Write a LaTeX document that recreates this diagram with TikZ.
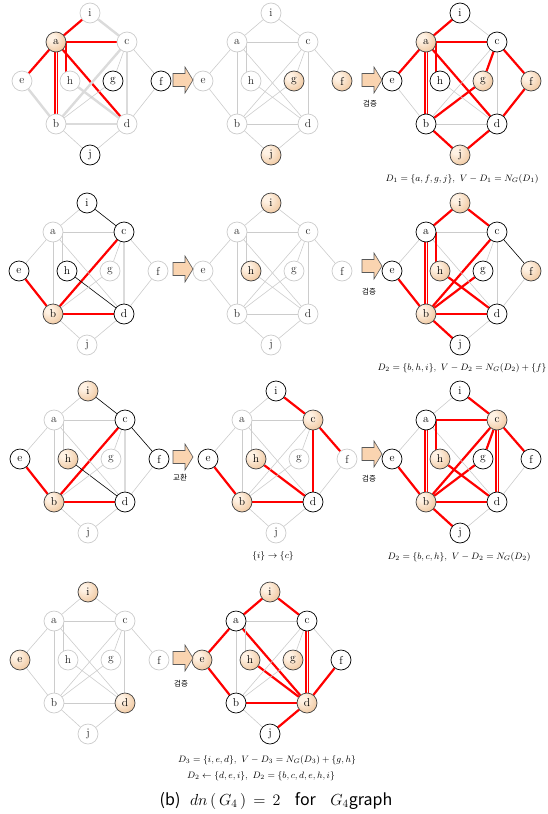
\RequirePackage{fix-cm}
\documentclass[tikz,border=0pt]{standalone}
\usepackage{fontspec}
\newfontfamily\kr{Noto Sans CJK KR}
\usetikzlibrary{backgrounds,calc}
\definecolor{pkA}{RGB}{255,242,228}
\definecolor{pkB}{RGB}{240,200,160}
\definecolor{pkC}{RGB}{208,152,104}
\definecolor{arrf}{RGB}{250,212,176}
\pgfdeclareradialshading{peachball}{\pgfpoint{-12bp}{12bp}}{color(0bp)=(pkA); color(8bp)=(pkA); color(35bp)=(pkB); color(62bp)=(pkC); color(80bp)=(pkC)}
\tikzset{
  nd/.style={circle, minimum size=20pt, inner sep=0pt, font=\fontsize{11.5}{12}\selectfont, line width=0.7pt},
  lt/.style={nd, draw=black!20, fill=white, text=black!85},
  bk/.style={nd, draw=black, fill=white},
  sl/.style={nd, draw=black!75, shade, shading=peachball},
  R/.style={draw=red, line width=2.2pt},
  RR/.style={draw=red, line width=1.8pt, double=white, double distance=0.8pt},
  G/.style={draw=black!20, line width=0.6pt},
  GT/.style={draw=black!14, line width=2.4pt},
  GG/.style={draw=black!20, line width=0.6pt, double=white, double distance=1pt},
  K/.style={draw=black, line width=0.6pt},
  barrow/.style={draw=black!65, line width=0.6pt, fill=arrf},
  kor/.style={font=\kr\fontsize{7.5}{8}\selectfont, inner sep=0pt},
  lab/.style={font=\fontsize{9.3}{10}\selectfont, inner sep=0pt},
  loc-i/.style={at={(90,13)}},
  loc-a/.style={at={(56,42)}},
  loc-c/.style={at={(127,42)}},
  loc-e/.style={at={(22,81)}},
  loc-h/.style={at={(70,81)}},
  loc-g/.style={at={(113,81)}},
  loc-f/.style={at={(161,81)}},
  loc-b/.style={at={(56,124)}},
  loc-d/.style={at={(127,124)}},
  loc-j/.style={at={(90,155)}},
}
\newcommand\Nodes[4]{%
  \begin{scope}[shift={(#2,#3)}]
  \foreach \n/\s in {#4}{\edef\tmp{\noexpand\node[\s, loc-\n] (#1\n) {\n};}\tmp}
  \end{scope}}
\newcommand\Edges[2]{%
  \begin{pgfonlayer}{background}
  \foreach \u/\v/\s in {#2}{\edef\tmp{\noexpand\draw[\s] (#1\u) -- (#1\v);}\tmp}
  \end{pgfonlayer}}
\newcommand\AH[2]{%
  \begin{pgfonlayer}{background}
  \draw[#2] (#1h.115) -- (#1h.115 |- #1a.center);
  \end{pgfonlayer}}
\newcommand\BArrow[2]{%
  \draw[barrow] (#1,#2) ++(0,-6.5) -- ++(12,0) -- ++(0,-6.5) -- ++(8,13) -- ++(-8,13) -- ++(0,-6.5) -- ++(-12,0) -- cycle;}
\begin{document}
\begin{tikzpicture}[x=1pt,y=-1pt]
\useasboundingbox (0,0) rectangle (548,814);
% ---------- Row 1 ----------
\Nodes{p1}{0}{0}{i/lt,a/sl,c/lt,e/lt,h/lt,g/bk,f/bk,b/lt,d/lt,j/bk}
\Edges{p1}{i/a/R,a/c/R,a/e/R,a/b/RR,a/d/R,i/c/GT,e/b/GT,c/b/GT,c/d/GT,b/d/GT,h/d/GT,c/g/G,g/b/G,c/f/G,f/d/G,b/j/G,d/j/G}
\AH{p1}{R}
\Nodes{p2}{181}{0}{i/lt,a/lt,c/lt,e/lt,h/lt,g/sl,f/sl,b/lt,d/lt,j/sl}
\Edges{p2}{i/a/G,i/c/G,a/c/G,a/e/G,a/b/G,a/d/G,c/g/G,c/d/G,c/b/G,c/f/G,e/b/G,h/d/G,g/b/G,b/d/G,b/j/G,d/j/G}
\AH{p2}{G}
\Nodes{p3}{370}{0}{i/bk,a/sl,c/bk,e/bk,h/bk,g/sl,f/sl,b/bk,d/bk,j/sl}
\Edges{p3}{i/a/R,a/c/R,a/e/R,a/b/RR,a/d/R,c/g/R,g/b/R,c/f/R,f/d/R,b/j/R,d/j/R,i/c/G,e/b/G,c/b/G,c/d/G,b/d/G,h/d/G}
\AH{p3}{R}
\BArrow{173}{80}
\BArrow{362}{80}
\node[kor] (k1) at (370,104) {검증};
\node[lab] (l1) at (462,179) {$D_1=\{a,f,g,j\},\ V-D_1=N_G(D_1)$};
% ---------- Row 2 ----------
\Nodes{p4}{-3}{190}{i/bk,a/lt,c/bk,e/bk,h/bk,g/lt,f/lt,b/sl,d/bk,j/lt}
\Edges{p4}{e/b/R,c/b/R,b/d/R,i/c/K,h/d/K,c/d/GT,i/a/G,a/c/G,a/e/G,a/b/G,a/d/G,c/g/G,g/b/G,c/f/G,f/d/G,b/j/G,d/j/G}
\AH{p4}{G}
\Nodes{p5}{181}{190}{i/sl,a/lt,c/lt,e/lt,h/sl,g/lt,f/lt,b/lt,d/lt,j/lt}
\Edges{p5}{i/a/G,i/c/G,a/c/G,a/e/G,a/b/G,a/d/G,c/g/G,c/d/G,c/b/G,c/f/G,e/b/G,h/d/G,g/b/G,b/d/G,b/j/G,d/j/G}
\AH{p5}{G}
\Nodes{p6}{370}{190}{i/sl,a/bk,c/bk,e/bk,h/sl,g/bk,f/sl,b/sl,d/bk,j/bk}
\Edges{p6}{i/a/R,i/c/R,a/b/RR,c/b/R,g/b/R,e/b/R,h/d/R,b/d/R,b/j/R,c/f/K,a/c/G,a/e/G,a/d/G,c/g/G,c/d/G,f/d/G,d/j/G}
\AH{p6}{R}
\BArrow{173}{269}
\BArrow{362}{266}
\node[kor] (k2) at (369,292) {검증};
\node[lab] (l2) at (462,368) {$D_2=\{b,h,i\},\ V-D_2=N_G(D_2)+\{f\}$};
% ---------- Row 3 ----------
\Nodes{p7}{-2}{378}{i/sl,a/lt,c/bk,e/bk,h/sl,g/lt,f/bk,b/sl,d/bk,j/lt}
\Edges{p7}{e/b/R,c/b/R,b/d/R,i/c/K,c/f/K,h/d/K,c/d/GT,i/a/G,a/c/G,a/e/G,a/b/G,a/d/G,c/g/G,g/b/G,f/d/G,b/j/G,d/j/G}
\AH{p7}{G}
\Nodes{p8}{186}{378}{i/bk,a/lt,c/sl,e/bk,h/sl,g/lt,f/lt,b/sl,d/bk,j/lt}
\Edges{p8}{i/c/R,c/f/R,c/d/R,h/d/R,e/b/R,b/d/R,i/a/G,a/c/G,a/e/G,a/b/G,a/d/G,c/g/G,c/b/G,g/b/G,f/d/G,b/j/G,d/j/G}
\AH{p8}{G}
\Nodes{p9}{370}{378}{i/bk,a/bk,c/sl,e/bk,h/sl,g/bk,f/bk,b/sl,d/bk,j/bk}
\Edges{p9}{i/c/R,a/c/R,c/g/R,c/d/RR,c/f/R,c/b/R,h/d/R,a/b/RR,e/b/R,g/b/R,b/d/R,b/j/R,i/a/G,a/e/G,a/d/G,f/d/G,d/j/G}
\AH{p9}{R}
\BArrow{173}{457}
\BArrow{362}{454}
\node[kor] (k3) at (180,478) {교환};
\node[kor] (k4) at (369,479) {검증};
\node[lab] (l3) at (273,556) {$\{i\}\rightarrow\{c\}$};
\node[lab] (l4) at (459,557) {$D_2=\{b,c,h\},\ V-D_2=N_G(D_2)$};
% ---------- Row 4 ----------
\Nodes{p10}{-2}{579}{i/sl,a/lt,c/lt,e/sl,h/lt,g/lt,f/lt,b/lt,d/sl,j/lt}
\Edges{p10}{i/a/G,i/c/G,a/c/G,a/e/G,a/b/G,a/d/G,c/g/G,c/d/GG,c/b/G,c/f/G,e/b/G,h/d/G,g/b/G,b/d/G,b/j/G,d/j/G}
\AH{p10}{G}
\Nodes{p11}{180}{579}{i/sl,a/bk,c/bk,e/sl,h/sl,g/sl,f/bk,b/bk,d/sl,j/bk}
\Edges{p11}{i/a/R,i/c/R,a/e/R,e/b/R,a/d/R,h/d/R,c/d/RR,f/d/R,b/d/R,d/j/R,a/c/G,a/b/G,c/b/G,c/g/G,g/b/G,c/f/G,b/j/G}
\AH{p11}{G}
\BArrow{173}{658}
\node[kor] (k5) at (181,684) {검증};
\node[lab] (l5) at (267,760) {$D_3=\{i,e,d\},\ V-D_3=N_G(D_3)+\{g,h\}$};
\node[lab] (l6) at (261,776) {$D_2\leftarrow\{d,e,i\},\ D_2=\{b,c,d,e,h,i\}$};
\node[font=\fontsize{16}{18}\selectfont, inner sep=0pt] (cap) at (276,801) {{\kr (b)}\ \ $dn\,(\,G_4\,)\,=\,2$\ \ \ {\kr for}\ \ \ $G_4${\kr graph}};
\end{tikzpicture}
\end{document}
